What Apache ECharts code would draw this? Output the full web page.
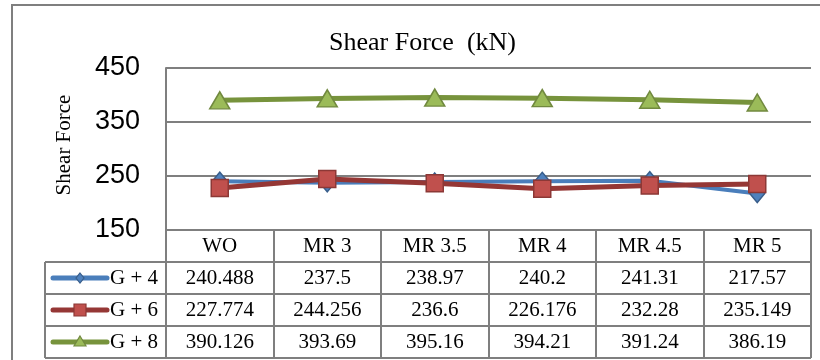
<!DOCTYPE html>
<html><head><meta charset="utf-8">
<script src="https://cdn.jsdelivr.net/npm/echarts@6/dist/echarts.min.js"></script>
<style>html,body{margin:0;padding:0;background:#fff}#c{width:820px;height:360px}</style>
</head><body><div id="c"></div>
<script>
const categories = ['WO','MR 3','MR 3.5','MR 4','MR 4.5','MR 5'];
const seriesNames = ['G + 4','G + 6','G + 8'];
const g4 = [240.488, 237.5, 238.97, 240.2, 241.31, 217.57];
const g6 = [227.774, 244.256, 236.6, 226.176, 232.28, 235.149];
const g8 = [390.126, 393.69, 395.16, 394.21, 391.24, 386.19];
const g4Text = ['240.488','237.5','238.97','240.2','241.31','217.57'];
const g6Text = ['227.774','244.256','236.6','226.176','232.28','235.149'];
const g8Text = ['390.126','393.69','395.16','394.21','391.24','386.19'];
const yTicks = [150, 250, 350, 450];

const GRID = {left:166, right:9, top:68, bottom:130};
const lineCol = '#7f7f7f';
const serif = "'Liberation Serif','Times New Roman',serif";
const styles = [
  {line:'#4a7ebb', fill:'#4f81bd', border:'#385d8a', symbol:'diamond', size:[15,18], w:4},
  {line:'#953735', fill:'#c0504d', border:'#8c3836', symbol:'rect', size:[17,17], w:5},
  {line:'#77933c', fill:'#9bbb59', border:'#71893f', symbol:'triangle', size:[20,17], w:5}
];
const dataSets = [g4, g6, g8];
const textSets = [g4Text, g6Text, g8Text];

const chart = echarts.init(document.getElementById('c'), null, {renderer:'canvas'});
chart.setOption({
  animation:false,
  backgroundColor:'#fff',
  title:{text:'Shear Force  (kN)', left:324, top:25, textStyle:{fontFamily:serif, fontWeight:'normal', fontSize:26, color:'#000'}},
  grid:GRID,
  xAxis:{type:'category', data:categories, boundaryGap:true,
    axisLine:{show:true, lineStyle:{color:lineCol, width:2}},
    axisTick:{show:true, length:128, lineStyle:{color:lineCol, width:2}},
    axisLabel:{margin:6, fontFamily:serif, fontSize:21, color:'#000'}},
  yAxis:{type:'value', min:150, max:450, interval:100,
    axisLine:{show:true, lineStyle:{color:lineCol, width:2}},
    axisTick:{show:false},
    axisLabel:{margin:26, fontFamily:"'Liberation Sans Narrow','Arial Narrow','Liberation Sans',sans-serif", fontSize:27, color:'#000'},
    splitLine:{lineStyle:{color:lineCol, width:2}}},
  series: dataSets.map((d,i)=>({
    name:seriesNames[i], type:'line', data:d, symbol:styles[i].symbol, symbolSize:styles[i].size,
    lineStyle:{color:styles[i].line, width:styles[i].w},
    itemStyle:{color:styles[i].fill, borderColor:styles[i].border, borderWidth:1.5},
    z:2+i
  }))
});

function build(){
  const g = [];
  g.push({type:'rect', shape:{x:12, y:5, width:830, height:400}, style:{fill:null, stroke:lineCol, lineWidth:2}, z:-1, silent:true});
  g.push({type:'text', x:64, y:145, rotation:Math.PI/2, style:{text:'Shear Force', font:"21px "+serif, fill:'#000', align:'center', verticalAlign:'middle'}});
  const x0 = chart.convertToPixel({xAxisIndex:0}, 0);
  const x1 = chart.convertToPixel({xAxisIndex:0}, 1);
  const half = (x1-x0)/2;
  const rightEdge = chart.convertToPixel({xAxisIndex:0}, categories.length-1)+half;
  const yBase = chart.convertToPixel({yAxisIndex:0}, yTicks[0]);
  const headH = 32, rowH = 32;
  const labelLeft = 45;
  for(let r=0;r<=3;r++){
    const y = yBase+headH+r*rowH;
    g.push({type:'line', shape:{x1:labelLeft, y1:y, x2:rightEdge, y2:y}, style:{stroke:lineCol, lineWidth:2}});
  }
  g.push({type:'line', shape:{x1:labelLeft, y1:yBase+headH, x2:labelLeft, y2:yBase+headH+3*rowH}, style:{stroke:lineCol, lineWidth:2}});
  for(let r=0;r<3;r++){
    const cy = yBase+headH+r*rowH+rowH/2;
    const s = styles[r];
    g.push({type:'line', shape:{x1:53, y1:cy, x2:107, y2:cy}, style:{stroke:s.line, lineWidth:5, lineCap:'round'}});
    let shape;
    if(s.symbol==='diamond') shape={type:'polygon', shape:{points:[[80,cy-5],[84,cy],[80,cy+5],[76,cy]]}};
    else if(s.symbol==='rect') shape={type:'rect', shape:{x:74, y:cy-6, width:12, height:12}};
    else shape={type:'polygon', shape:{points:[[80,cy-6],[86,cy+4],[74,cy+4]]}};
    shape.style={fill:s.fill, stroke:s.border, lineWidth:1.2};
    g.push(shape);
    g.push({type:'text', x:110, y:cy, style:{text:seriesNames[r], font:"21px "+serif, fill:'#000', align:'left', verticalAlign:'middle'}});
    textSets[r].forEach((t,c)=>{
      const cx = chart.convertToPixel({xAxisIndex:0}, c);
      g.push({type:'text', x:cx, y:cy, style:{text:t, font:"21px "+serif, fill:'#000', align:'center', verticalAlign:'middle'}});
    });
  }
  chart.setOption({graphic:g});
}
build();
</script></body></html>
